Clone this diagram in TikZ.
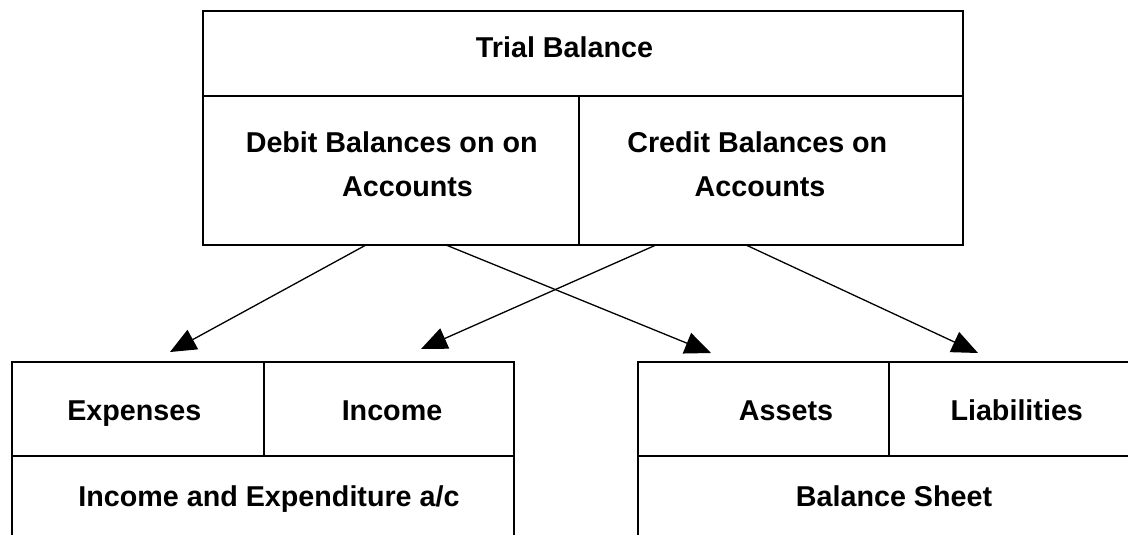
\documentclass[tikz,border=0pt]{standalone}
\usepackage{fontspec}
\setmainfont{Liberation Sans}
\usetikzlibrary{arrows.meta}
\tikzset{
  cell/.style={draw, line width=1.3pt, inner sep=0pt, outer sep=0pt, anchor=north west},
  lbl/.style={anchor=base, inner sep=0pt, font=\fontsize{28.7}{34}\selectfont\bfseries},
  conn/.style={line width=1.3pt, -{Triangle[length=26pt,width=22pt]}}
}
\begin{document}
\begin{tikzpicture}[x=1pt,y=-1pt]
\useasboundingbox (0,0) rectangle (1128,535);
\clip (0,0) rectangle (1128,535);
% top box
\node[cell, minimum width=760pt, minimum height=85pt] (tb) at (203,11) {};
\node[cell, minimum width=376pt, minimum height=149pt] (deb) at (203,96) {};
\node[cell, minimum width=384pt, minimum height=149pt] (cred) at (579,96) {};
% income and expenditure
\node[cell, minimum width=252pt, minimum height=94pt] (exp) at (12,362) {};
\node[cell, minimum width=250pt, minimum height=94pt] (inc) at (264,362) {};
\node[cell, minimum width=502pt, minimum height=90pt] (ie) at (12,456) {};
% balance sheet
\node[cell, minimum width=251pt, minimum height=94pt] (ast) at (638,362) {};
\node[cell, minimum width=262pt, minimum height=94pt] (lia) at (889,362) {};
\node[cell, minimum width=513pt, minimum height=90pt] (bs) at (638,456) {};
% labels
\node[lbl] (ltb) at (564.5,57.5) {Trial Balance};
\node[lbl] (ldeb1) at (391.7,152.5) {Debit Balances on on};
\node[lbl] (ldeb2) at (407.5,196.5) {Accounts};
\node[lbl] (lcr1) at (757.3,152.5) {Credit Balances on};
\node[lbl] (lcr2) at (760,196.5) {Accounts};
\node[lbl] (lexp) at (134.3,420) {Expenses};
\node[lbl] (linc) at (392,420) {Income};
\node[lbl] (lie) at (269,506.7) {Income and Expenditure a/c};
\node[lbl] (last) at (786,420) {Assets};
\node[lbl] (llia) at (1016.7,420) {Liabilities};
\node[lbl] (lbs) at (894,506.7) {Balance Sheet};
% connectors
\coordinate (s1) at (366,245);
\coordinate (s2) at (446,245);
\coordinate (s3) at (656,245);
\coordinate (s4) at (746,245);
\coordinate (t1) at (170,352);
\coordinate (t2) at (711,353);
\coordinate (t3) at (421,349);
\coordinate (t4) at (978,353);
\draw[conn] (s1) -- (t1);
\draw[conn] (s2) -- (t2);
\draw[conn] (s3) -- (t3);
\draw[conn] (s4) -- (t4);
\end{tikzpicture}
\end{document}
